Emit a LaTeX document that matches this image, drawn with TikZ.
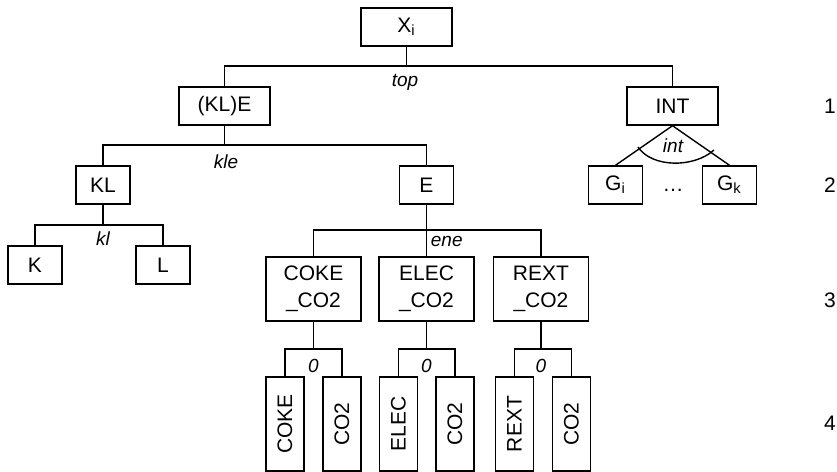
\documentclass[tikz,border=0pt]{standalone}
\usepackage{fontspec}
\setmainfont{Liberation Sans}
\usepackage{tikz}
\usetikzlibrary{positioning}
\tikzset{
  every node/.style={font=\fontsize{10.5}{13.5}\selectfont},
  % --- nodes
  box/.style    = {draw, line width=0.7pt, inner sep=0pt, align=center,
                   minimum height=19pt},
  small/.style  = {box, minimum width=27pt},
  wide/.style   = {box, minimum width=45.5pt},
  mix/.style    = {box, minimum width=47.5pt, minimum height=32pt},
  fuel/.style   = {box, minimum width=19pt, minimum height=47pt},
  lbl/.style    = {font=\fontsize{9.5}{11}\selectfont\itshape, inner sep=1pt},
  rownum/.style = {inner sep=1pt},
  % --- edges
  e/.style      = {line width=0.7pt},
}

\begin{document}
\begin{tikzpicture}[x=0.5pt,y=-0.5pt]
  \useasboundingbox (0,0) rectangle (837,472);

  % top and level 1
  \node[wide]  (Xi)  at (406.5,27)  {X\textsubscript{i}};
  \node[wide]  (KLE) at (224.5,106) {(KL)E};
  \node[wide]  (INT) at (672.5,106) {INT};
  % level 2
  \node[small] (KL)  at (103,185)   {KL};
  \node[small] (E)   at (426.5,185) {E};
  \node[small] (Gi)  at (615.5,185) {G\textsubscript{i}};
  \node[small] (Gk)  at (729.5,185) {G\textsubscript{k}};
  \node (dots) at (673,190) {…};
  % level 3 (left)
  \node[small] (K) at (35,265)  {K};
  \node[small] (L) at (163,265) {L};

  % energy nests with their fuel/CO2 leaves
  \foreach \nm/\cx/\lx/\rx in {COKE/313.5/285/342, ELEC/426.5/398.5/455, REXT/541/514.5/571.5}{
    \node[mix]  (\nm-mix)  at (\cx,289) {\nm\\\_CO2};
    \node[fuel] (\nm-fuel) at (\lx,424) {\rotatebox{90}{\nm}};
    \node[fuel] (\nm-co2)  at (\rx,424) {\rotatebox{90}{CO2}};
    \coordinate (\nm-bar) at (\cx,349);
    \draw[e] (\nm-mix.south) -- (\nm-bar);
    \draw[e] (\nm-fuel.north) |- (\nm-bar) -| (\nm-co2.north);
    \node[lbl] (\nm-sig) at (\cx,366) {0};
  }

  % nesting bars
  \coordinate (topbar) at (406.5,66);
  \coordinate (klebar) at (224.5,145);
  \coordinate (klbar)  at (103,225);
  \coordinate (enebar) at (426.5,230);
  \draw[e] (Xi.south) -- (topbar);
  \draw[e] (KLE.north) |- (topbar) -| (INT.north);
  \draw[e] (KLE.south) -- (klebar);
  \draw[e] (KL.north) |- (klebar) -| (E.north);
  \draw[e] (KL.south) -- (klbar);
  \draw[e] (K.north) |- (klbar) -| (L.north);
  \draw[e] (E.south) -- (ELEC-mix.north);
  \draw[e] (COKE-mix.north) |- (enebar) -| (REXT-mix.north);
  \draw[e] (INT.south) -- (Gi.north);
  \draw[e] (INT.south) -- (Gk.north);
  \coordinate (arcL) at (638,147);
  \coordinate (arcR) at (714,150);
  \draw[e] (arcL) .. controls (652,168) and (694,168) .. (arcR);

  % elasticity labels
  \node[lbl] (toplab) at (405,82)  {top};
  \node[lbl] (klelab) at (226,162) {kle};
  \node[lbl] (kllab)  at (103,239) {kl};
  \node[lbl, anchor=north west, xshift=1pt, yshift=-2pt] (enelab) at (enebar) {ene};
  \node[lbl] (intlab) at (673,146) {int};

  % level numbers
  \foreach \r/\y in {1/106,2/185,3/300,4/423}
    \node[rownum] (row\r) at (830,\y) {\r};
\end{tikzpicture}
\end{document}
